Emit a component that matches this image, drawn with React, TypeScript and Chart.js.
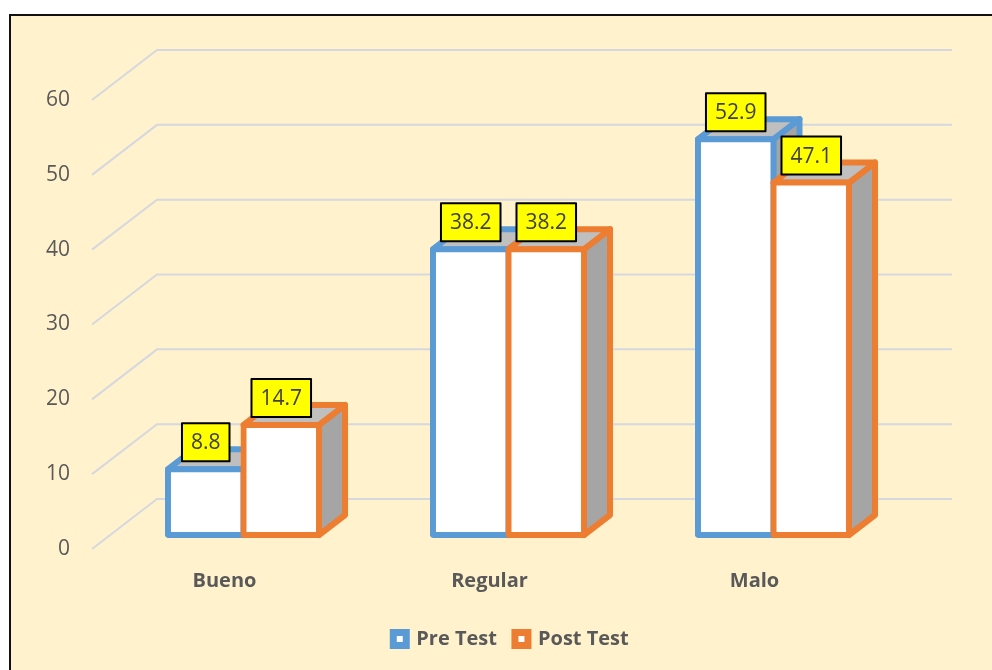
import React, { useEffect, useRef } from 'react';
import { Chart, registerables } from 'chart.js';

Chart.register(...registerables);

const categories = ['Bueno', 'Regular', 'Malo'];
const seriesNames = ['Pre Test', 'Post Test'];
const preTest = [8.8, 38.2, 52.9];
const postTest = [14.7, 38.2, 47.1];
const yMin = 0;
const yMax = 60;
const yStep = 10;

const BLUE = '#5B9BD5';
const ORANGE = '#ED7D31';
const TEXT = '#595959';
const GRID = '#D5D8DE';
const SIDE = '#A5A5A5';
const TOP = '#BFBFBF';

// 3D geometry (pixel offsets for the perspective look)
const FRONT_DX = 19;
const FRONT_DY = -14;
const BAR_DX = 26;
const BAR_DY = -20;
const WALL_DX = 65;
const WALL_DY = -50;

const threeD = {
  id: 'threeD',
  beforeDatasetsDraw(chart: any) {
    const { ctx, chartArea } = chart;
    const y = chart.scales.y;
    ctx.save();
    ctx.strokeStyle = GRID;
    ctx.lineWidth = 2;
    for (const t of y.ticks) {
      const py = y.getPixelForValue(t.value);
      ctx.beginPath();
      ctx.moveTo(chartArea.left, py);
      ctx.lineTo(chartArea.left + WALL_DX, py + WALL_DY);
      ctx.lineTo(chartArea.right + WALL_DX, py + WALL_DY);
      ctx.stroke();
    }

    const poly = (pts: number[][], fill: string) => {
      ctx.beginPath();
      ctx.moveTo(pts[0][0], pts[0][1]);
      for (let k = 1; k < pts.length; k++) ctx.lineTo(pts[k][0], pts[k][1]);
      ctx.closePath();
      ctx.fillStyle = fill;
      ctx.fill();
      ctx.stroke();
    };

    const metas = chart.data.datasets.map((_: any, i: number) => chart.getDatasetMeta(i));
    const n = chart.data.labels.length;
    const labelItems: any[] = [];
    for (let i = 0; i < n; i++) {
      metas.forEach((meta: any, d: number) => {
        const el = meta.data[i];
        if (!el) return;
        const p = el.getProps(['x', 'y', 'base', 'width'], true);
        const color = el.options.borderColor;
        const x1 = p.x - p.width / 2 + FRONT_DX;
        const x2 = p.x + p.width / 2 + FRONT_DX;
        const yt = Math.min(p.y, p.base) + FRONT_DY;
        const yb = Math.max(p.y, p.base) + FRONT_DY;
        ctx.lineWidth = 6;
        ctx.lineJoin = 'round';
        ctx.strokeStyle = color;
        poly([[x2, yt], [x2 + BAR_DX, yt + BAR_DY], [x2 + BAR_DX, yb + BAR_DY], [x2, yb]], SIDE);
        poly([[x1, yt], [x1 + BAR_DX, yt + BAR_DY], [x2 + BAR_DX, yt + BAR_DY], [x2, yt]], TOP);
        ctx.save();
        ctx.translate(FRONT_DX, FRONT_DY);
        el.draw(ctx, chartArea);
        ctx.restore();
        labelItems.push({ cx: p.x + FRONT_DX, top: yt, value: chart.data.datasets[d].data[i] });
      });
    }

    ctx.font = '21px "Open Sans"';
    ctx.textAlign = 'center';
    ctx.textBaseline = 'middle';
    for (const it of labelItems) {
      const text = Number(it.value).toFixed(1);
      const w = ctx.measureText(text).width + 18;
      const h = 38;
      const bottom = it.top - 8;
      const left = it.cx - w / 2;
      ctx.fillStyle = '#FFFF00';
      ctx.fillRect(left, bottom - h, w, h);
      ctx.lineWidth = 2;
      ctx.strokeStyle = '#000000';
      ctx.strokeRect(left, bottom - h, w, h);
      ctx.fillStyle = '#404040';
      ctx.fillText(text, it.cx, bottom - h / 2 + 1);
    }
    ctx.restore();
    return false;
  },
};

export default function App() {
  const ref = useRef<HTMLCanvasElement | null>(null);
  useEffect(() => {
    if (!ref.current) return;
    Chart.defaults.font.family = '"Open Sans", sans-serif';
    const chart = new Chart(ref.current, {
      type: 'bar',
      data: {
        labels: categories,
        datasets: [
          {
            label: seriesNames[0],
            data: preTest,
            backgroundColor: '#FFFFFF',
            borderColor: BLUE,
            borderWidth: 6,
            borderSkipped: false,
            inflateAmount: 3,
            borderRadius: 3,
            categoryPercentage: 0.57,
            barPercentage: 1,
          },
          {
            label: seriesNames[1],
            data: postTest,
            backgroundColor: '#FFFFFF',
            borderColor: ORANGE,
            borderWidth: 6,
            borderSkipped: false,
            inflateAmount: 3,
            borderRadius: 3,
            categoryPercentage: 0.57,
            barPercentage: 1,
          },
        ],
      } as any,
      options: {
        animation: false,
        responsive: false,
        devicePixelRatio: 1,
        layout: { padding: { top: 100, left: 30, right: 0, bottom: 11 } },
        scales: {
          x: {
            grid: { display: false, drawTicks: false },
            border: { display: false },
            ticks: { color: TEXT, font: { size: 20, weight: 'bold' }, padding: 20 },
            afterFit: (s: any) => {
              s.height = 62;
            },
          },
          y: {
            min: yMin,
            max: yMax,
            grid: { display: false, drawTicks: false },
            border: { display: false },
            ticks: { stepSize: yStep, color: TEXT, font: { size: 21 }, padding: 22 },
            afterFit: (s: any) => {
              s.width = 62;
            },
          },
          yPad: {
            type: 'linear',
            position: 'right',
            display: true,
            grid: { display: false, drawTicks: false },
            border: { display: false },
            ticks: { display: false },
            afterFit: (s: any) => {
              s.width = 105;
            },
          },
        },
        plugins: {
          legend: {
            position: 'bottom',
            labels: {
              color: TEXT,
              font: { size: 20, weight: 'bold' },
              boxWidth: 13,
              boxHeight: 13,
              padding: 18,
              generateLabels: (c: any) =>
                c.data.datasets.map((ds: any, i: number) => ({
                  text: ds.label,
                  fillStyle: '#FFFFFF',
                  strokeStyle: ds.borderColor,
                  lineWidth: 7,
                  fontColor: TEXT,
                  hidden: !c.isDatasetVisible(i),
                  datasetIndex: i,
                })),
            },
          },
          tooltip: { enabled: false },
        },
      } as any,
      plugins: [threeD as any],
    });
    return () => chart.destroy();
  }, []);

  return (
    <div style={{ position: 'fixed', left: 0, top: 0, width: 992, height: 670, overflow: 'hidden', background: '#FFFFFF' }}>
      <div
        style={{
          position: 'absolute',
          left: 9,
          top: 14,
          width: 1200,
          height: 900,
          background: '#FFF2CC',
          borderTop: '2px solid #111',
          borderLeft: '2px solid #111',
          boxSizing: 'border-box',
        }}
      />
      <canvas ref={ref} width={992} height={670} style={{ position: 'absolute', left: 0, top: 0, width: 992, height: 670 }} />
    </div>
  );
}
